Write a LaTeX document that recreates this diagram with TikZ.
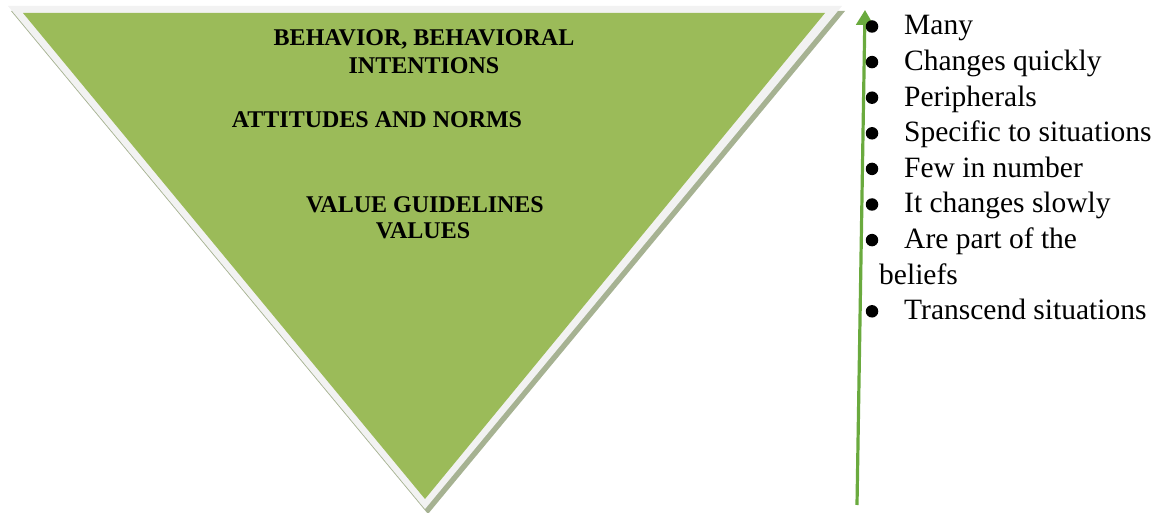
\documentclass[tikz,border=0pt]{standalone}
\usepackage{fontspec}
\setmainfont{Liberation Serif}
\usepackage{xcolor}
\usetikzlibrary{arrows.meta}

\definecolor{olive}{RGB}{155,187,89}
\definecolor{rim}{RGB}{242,242,242}
\definecolor{rimshadow}{RGB}{166,178,146}
\definecolor{arrowgreen}{RGB}{106,170,62}

\begin{document}
\begin{tikzpicture}[x=1pt,y=-1pt,
    tritext/.style={font=\bfseries\fontsize{24}{27.6}\selectfont, anchor=base, inner sep=0},
    item/.style={font=\fontsize{29.5}{35.6}\selectfont, anchor=base west, inner sep=0},
    dot/.style={circle, fill=black, inner sep=0, minimum size=12.5}]
\useasboundingbox (0,0) rectangle (1159,513);

% Inverted triangle: shadow, light rim, green face
\fill[rimshadow] (11,11) -- (845,11) -- (428,514) -- cycle;
\fill[rim] (8,6) -- (842,6) -- (425,509) -- cycle;
\fill[olive] (23,13) -- (825,13) -- (425,499) -- cycle;

% Levels inside the triangle
\node[tritext] (beh1) at (424,46) {BEHAVIOR, BEHAVIORAL};
\node[tritext] (beh2) at (424,74) {INTENTIONS};
\node[tritext] (att) at (377,128) {ATTITUDES AND NORMS};
\node[tritext] (val1) at (425,212) {VALUE GUIDELINES};
\node[tritext] (val2) at (423,238) {VALUES};

% Upward arrow beside the list
\coordinate (foot) at (857,505);
\coordinate (tip) at (865,10);
\draw[arrowgreen, line width=3.2, -{Triangle[length=15, width=17]}] (foot) -- (tip);

% Bullet list
\foreach \txt [count=\k from 0] in {Many, Changes quickly, Peripherals,
    Specific to situations, Few in number, It changes slowly, Are part of the} {
    \node[dot] (dot\k) at (872,{35+35.6*\k-8.5}) {};
    \node[item] (item\k) at (904,{35+35.6*\k}) {\txt};
}
\node[item] (item7) at (879,{35+35.6*7}) {beliefs};
\node[dot] (dot8) at (872,{35+35.6*8-8.5}) {};
\node[item] (item8) at (904,{35+35.6*8}) {Transcend situations};

\end{tikzpicture}
\end{document}
